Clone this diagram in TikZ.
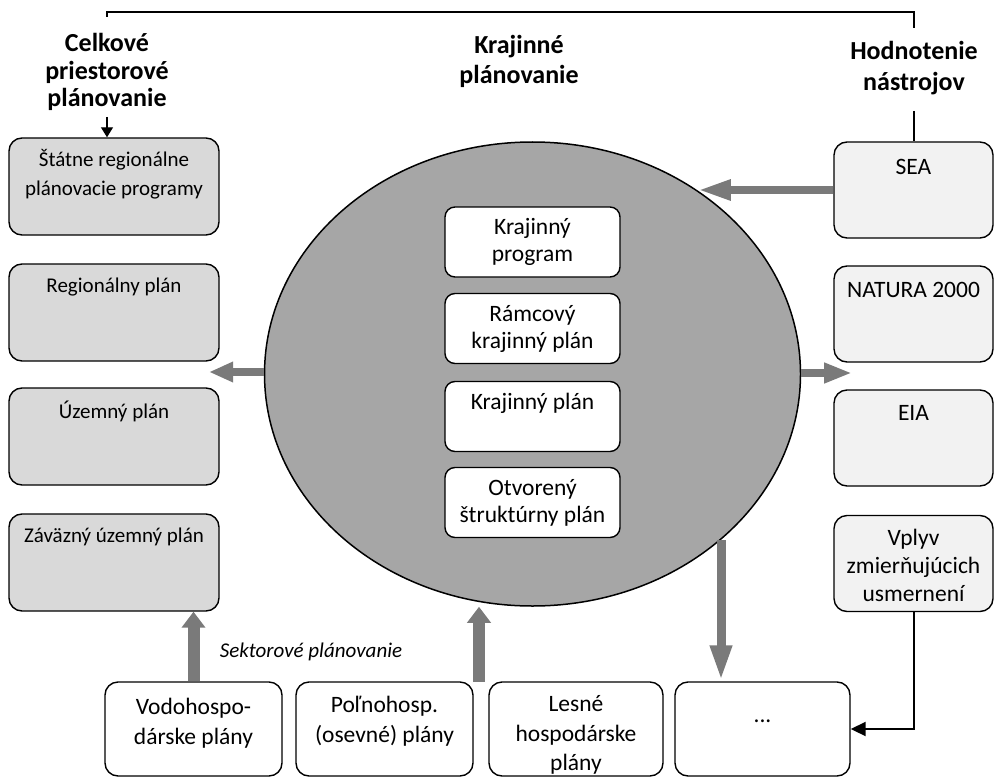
\documentclass[tikz,border=0pt]{standalone}
\usepackage{fontspec}
\setmainfont{Carlito}
\usetikzlibrary{arrows.meta,shapes.geometric,calc}

\definecolor{coregray}{HTML}{A6A6A6}
\definecolor{leftfill}{HTML}{D9D9D9}
\definecolor{rightfill}{HTML}{F2F2F2}
\definecolor{arrowgray}{HTML}{7A7A7A}

\begin{document}
\begin{tikzpicture}[x=1pt,y=-1pt,
  box/.style={draw=black, line width=1.4pt, rounded corners=13pt, inner sep=0pt},
  leftbox/.style={box, fill=leftfill, minimum width=210pt, minimum height=97pt},
  rightbox/.style={box, fill=rightfill, minimum width=159pt, minimum height=96pt},
  innerbox/.style={box, fill=white, rounded corners=10pt, minimum width=175pt,
    minimum height=70pt, align=center, font=\fontsize{23.5}{27}\selectfont},
  bottombox/.style={box, fill=white, minimum height=94pt, align=center,
    font=\fontsize{23.5}{29.5}\selectfont},
  lefttext/.style={inner sep=0pt, align=center, font=\fontsize{21}{29}\selectfont},
  righttext/.style={inner sep=0pt, align=center, font=\fontsize{23.5}{28}\selectfont},
  bottomtext/.style={inner sep=0pt, align=center, font=\fontsize{23.5}{29.5}\selectfont},
  title/.style={inner sep=0pt, align=center, font=\bfseries\fontsize{26}{#1}\selectfont},
  thinline/.style={draw=black, line width=1.3pt},
  grayarrow/.style={draw=arrowgray, line width=8pt}
]
\useasboundingbox (0,0) rectangle (995,778);

% titles
\node[title=27.5] (celk) at (107,72) {Celkové\\priestorové\\plánovanie};
\node[title=30] (kraj) at (519,61) {Krajinné\\plánovanie};
\node[title=31] (hod) at (914,68) {Hodnotenie\\nástrojov};

% frame line joining the two outer titles
\coordinate (tick) at (107,17);
\coordinate (tl) at (107,12);
\coordinate (tr) at (914,12);
\coordinate (hodtop) at (914,28);
\coordinate (hodbot) at (914,111);
\draw[thinline] (tick) -- (tl) -- (tr) -- (hodtop);

% central ellipse with landscape planning levels
\node[ellipse, draw=black, line width=1.5pt, fill=coregray, inner sep=0pt,
      minimum width=536pt, minimum height=464pt] (core) at (532.5,374) {};
\node[innerbox] (kprog) at (532.5,242) {Krajinný\\program};
\node[innerbox] (rkp) at (532.5,328.5) {Rámcový\\krajinný plán};
\node[innerbox] (kplan) at (532.5,416.5) {};
\node[righttext] (kplan-t) at (532.5,403) {Krajinný plán};
\node[innerbox] (osp) at (532.5,502.5) {Otvorený\\štruktúrny plán};

% spatial planning column
\node[leftbox] (stat) at (114,186.5) {};
\node[lefttext] (stat-t) at (114,174) {Štátne regionálne\\plánovacie programy};
\node[leftbox] (reg) at (114,312.5) {};
\node[lefttext] (reg-t) at (114,287) {Regionálny plán};
\node[leftbox] (uzem) at (114,436.5) {};
\node[lefttext] (uzem-t) at (114,411) {Územný plán};
\node[leftbox] (zav) at (114,562.5) {};
\node[lefttext] (zav-t) at (114,537) {Záväzný územný plán};

% assessment tools column
\node[rightbox] (sea) at (913.5,190) {};
\node[righttext] (sea-t) at (913.5,167) {SEA};
\node[rightbox] (natura) at (913.5,314) {};
\node[righttext] (natura-t) at (913.5,290) {NATURA 2000};
\node[rightbox] (eia) at (913.5,438) {};
\node[righttext] (eia-t) at (913.5,413) {EIA};
\node[rightbox] (vplyv) at (913.5,563.5) {};
\node[righttext] (vplyv-t) at (913.5,565) {Vplyv\\zmierňujúcich\\usmernení};

% sectoral plans
\node[bottombox, minimum width=177pt] (vodo) at (193.5,729) {};
\node[bottomtext] (vodo-t) at (193.5,723) {Vodohospo-\\dárske plány};
\node[bottombox, minimum width=177pt] (poln) at (384.5,729) {};
\node[bottomtext] (poln-t) at (384.5,721) {Poľnohosp.\\(osevné) plány};
\node[bottombox, minimum width=174pt] (lesne) at (576,729) {};
\node[bottomtext] (lesne-t) at (576,735) {Lesné\\hospodárske\\plány};
\node[bottombox, minimum width=175pt] (dots) at (762.5,729) {};
\node[bottomtext] (dots-t) at (762.5,721) {...};
\node[inner sep=0pt, font=\itshape\fontsize{21}{24}\selectfont] (sekt) at (311,652) {Sektorové plánovanie};

% thin black connectors
\coordinate (celkarr) at (107,117);
\draw[thinline, -{Triangle[length=10pt,width=12pt]}] (celkarr) -- (celkarr |- stat.north);
\draw[thinline] (hodbot) -- (hodbot |- sea.north);
\draw[draw=black, line width=2pt, -{Triangle[length=15pt,width=14pt]}] (vplyv.south) |- (dots.east);

% thick grey arrows
\coordinate (ltip) at (209,372);
\coordinate (rtip) at (852,373);
\draw[grayarrow, -{Triangle[length=24pt,width=19pt]}] (core.west |- ltip) -- (ltip);
\draw[grayarrow, -{Triangle[length=28pt,width=19pt]}] (core.east |- rtip) -- (rtip);
\draw[grayarrow, -{Triangle[length=33pt,width=19pt]}] (sea.west) -- (sea.west -| core.48.5);
\draw[grayarrow, line width=12pt, -{Triangle[length=16pt,width=23pt]}] (vodo.north) -- (vodo.north |- zav.south);
\coordinate (polbase) at (479,682);
\draw[grayarrow, line width=12pt, -{Triangle[length=16pt,width=23pt]}] (polbase) -- (polbase |- core.south);
\coordinate (dntop) at (721,540);
\draw[grayarrow, line width=9pt, -{Triangle[length=36pt,width=20pt]}] (dntop) -- (dntop |- dots.north);
\end{tikzpicture}
\end{document}
